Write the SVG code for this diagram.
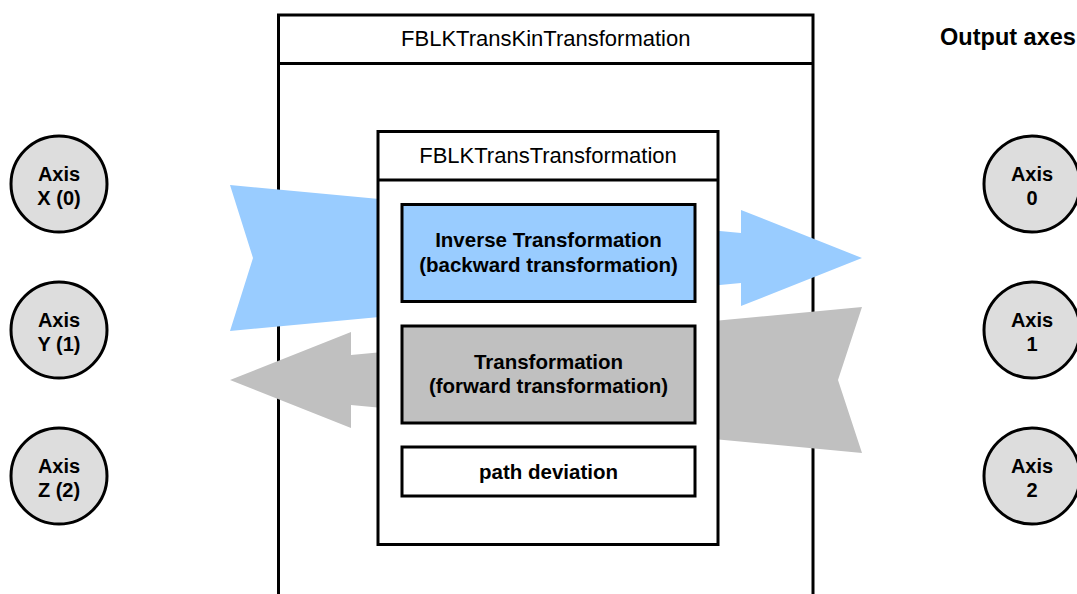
<svg xmlns="http://www.w3.org/2000/svg" width="1077" height="594" viewBox="0 0 1077 594">
<style>
.box{fill:#fff;stroke:#000;stroke-width:3}
.ax{fill:#DDDDDD;stroke:#000;stroke-width:3}
.t{font-family:"Liberation Sans",Arial,sans-serif;fill:#000;text-anchor:middle}
.r22{font-size:22px}
.b{font-weight:bold;font-size:20.5px}
.c{font-weight:bold;font-size:20px}
</style>
<rect width="1077" height="594" fill="#fff"/>
<g id="outer">
<rect class="box" x="278.5" y="15" width="534.5" height="620"/>
<line x1="278.5" y1="63.5" x2="813" y2="63.5" stroke="#000" stroke-width="3"/>
<text class="t r22" x="545.75" y="46">FBLKTransKinTransformation</text>
</g>
<g id="connectors">
<polygon fill="#99CCFF" points="230,185 253,258 230,331 741,283 741,306 862,258 741,210 741,233"/>
<polygon fill="#C0C0C0" points="862,307 838,380 862,453 351,405 351,428 230,380 351,332 351,355"/>
</g>
<g id="inner">
<rect class="box" x="378" y="131.5" width="340" height="413"/>
<line x1="378" y1="180" x2="718" y2="180" stroke="#000" stroke-width="3"/>
<text class="t r22" x="548" y="162.5">FBLKTransTransformation</text>
</g>
<g id="inverse">
<rect x="402" y="204.5" width="293" height="97" fill="#99CCFF" stroke="#000" stroke-width="3"/>
<text class="t b" x="548.5" y="246.5">Inverse Transformation</text>
<text class="t b" x="548.5" y="271.5">(backward transformation)</text>
</g>
<g id="forward">
<rect x="402" y="326" width="293" height="97" fill="#C0C0C0" stroke="#000" stroke-width="3"/>
<text class="t b" x="548.5" y="368.5">Transformation</text>
<text class="t b" x="548.5" y="393">(forward transformation)</text>
</g>
<g id="pathdev">
<rect class="box" x="402" y="447" width="293" height="49"/>
<text class="t b" x="548.5" y="478.5">path deviation</text>
</g>
<g id="axisX">
<circle class="ax" cx="59" cy="184" r="48"/>
<text class="t c" x="59" y="181">Axis</text>
<text class="t c" x="59" y="205">X (0)</text>
</g>
<g id="axisY">
<circle class="ax" cx="59" cy="330" r="48"/>
<text class="t c" x="59" y="327">Axis</text>
<text class="t c" x="59" y="351">Y (1)</text>
</g>
<g id="axisZ">
<circle class="ax" cx="59" cy="476" r="48"/>
<text class="t c" x="59" y="473">Axis</text>
<text class="t c" x="59" y="497">Z (2)</text>
</g>
<g id="outLabel">
<text class="t" x="1008" y="45" style="font-weight:bold;font-size:23.5px">Output axes</text>
</g>
<g id="axis0">
<circle class="ax" cx="1032" cy="184" r="48"/>
<text class="t c" x="1032" y="181">Axis</text>
<text class="t c" x="1032" y="205">0</text>
</g>
<g id="axis1">
<circle class="ax" cx="1032" cy="330" r="48"/>
<text class="t c" x="1032" y="327">Axis</text>
<text class="t c" x="1032" y="351">1</text>
</g>
<g id="axis2">
<circle class="ax" cx="1032" cy="476" r="48"/>
<text class="t c" x="1032" y="473">Axis</text>
<text class="t c" x="1032" y="497">2</text>
</g>
</svg>
